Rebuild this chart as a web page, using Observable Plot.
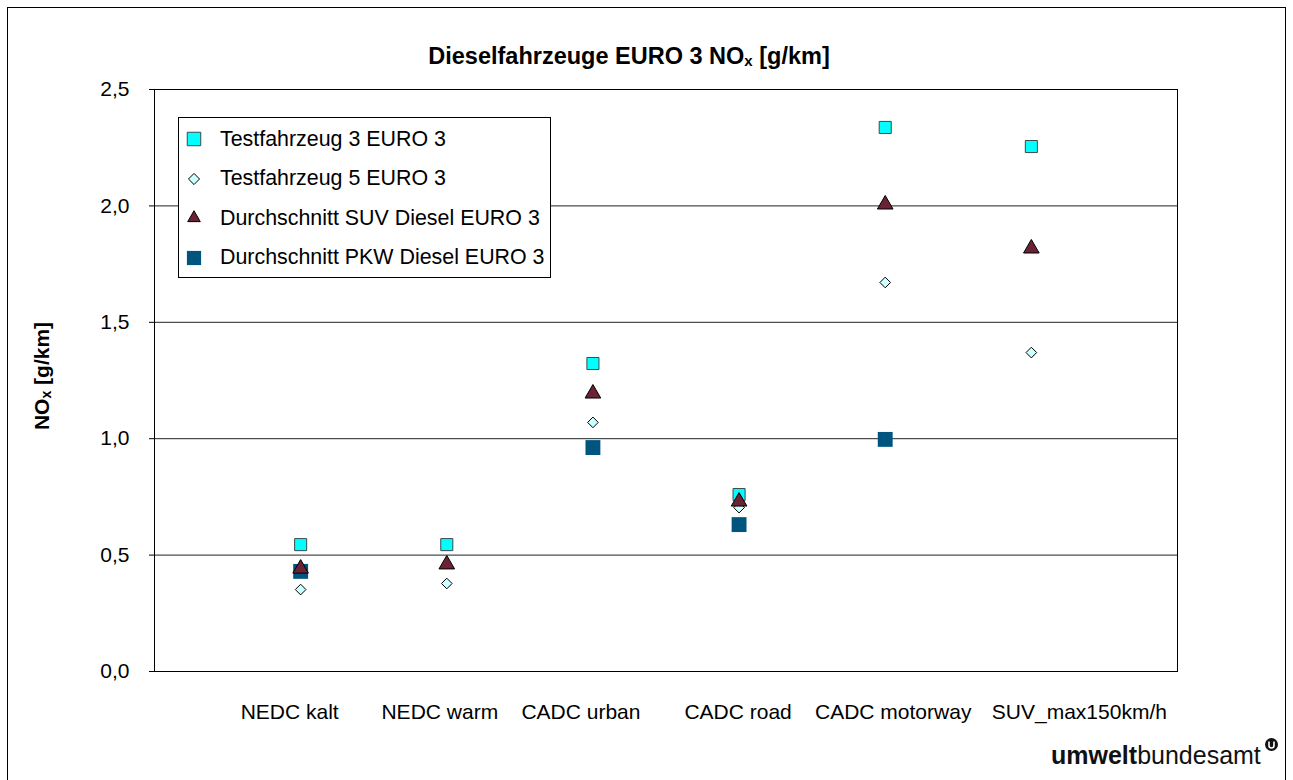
<!DOCTYPE html>
<html>
<head>
<meta charset="utf-8">
<script src="https://cdn.jsdelivr.net/npm/d3@7"></script>
<script src="https://cdn.jsdelivr.net/npm/@observablehq/plot@0.6"></script>
<style>
  body { margin: 0; background: #fff; font-family: "Liberation Sans", Arial, sans-serif; }
  #wrap { position: relative; width: 1293px; height: 780px; overflow: hidden; }
  #border { position: absolute; left: 7px; top: 7px; width: 1279px; height: 800px; border: 1px solid #000; box-sizing: border-box; }
  #title { position: absolute; left: 0; width: 1258px; top: 43px; text-align: center; font-weight: bold; font-size: 23.5px; color: #000; }
  #ylabel { position: absolute; left: 42px; top: 376px; transform: translate(-50%, -50%) rotate(-90deg); font-weight: bold; font-size: 21px; white-space: nowrap; }
  #legend { position: absolute; left: 178px; top: 117px; width: 373px; height: 161px; border: 1px solid #000; box-sizing: border-box; background: #fff; }
  .li { position: absolute; left: 5px; height: 26px; display: flex; align-items: center; font-size: 21.4px; white-space: nowrap; }
  .li svg { width: 20px; height: 20px; margin-right: 16px; }
  #logo { position: absolute; left: 1051px; top: 741px; font-size: 25px; color: #111; white-space: nowrap; }
  #logo b { font-weight: bold; }
  svg.plot { position: absolute; left: 0; top: 0; }
</style>
</head>
<body>
<div id="wrap">
  <div id="border"></div>
  <div id="chart"></div>
  <div id="title">Dieselfahrzeuge EURO 3 NO<sub style="font-size:15px;vertical-align:-2px">x</sub> [g/km]</div>
  <div id="ylabel">NO<sub style="font-size:14px;vertical-align:-2px">x</sub> [g/km]</div>
  <div id="legend"></div>
  <div id="logo"><b>umwelt</b>bundesamt<svg width="15" height="15" style="position:relative;top:-12px;left:3px"><circle cx="7.5" cy="7.5" r="6.5" fill="#111"/><path d="M5 4.5 V8.5 A2.5 2.5 0 0 0 10 8.5 V4.5" stroke="#fff" stroke-width="1.6" fill="none"/></svg></div>
</div>
<script>
const categories = ["NEDC kalt", "NEDC warm", "CADC urban", "CADC road", "CADC motorway", "SUV_max150km/h"];
const seriesNames = ["Testfahrzeug 3 EURO 3", "Testfahrzeug 5 EURO 3", "Durchschnitt SUV Diesel EURO 3", "Durchschnitt PKW Diesel EURO 3"];
const test3 = [0.545, 0.545, 1.323, 0.76, 2.337, 2.255];
const test5 = [0.352, 0.378, 1.07, 0.704, 1.671, 1.37];
const suvAvg = [0.442, 0.46, 1.194, 0.73, 2.006, 1.817];
const pkwAvg = [0.43, null, 0.962, 0.631, 0.997, null];
const yTicks = [0, 0.5, 1, 1.5, 2, 2.5];

const styles = {
  [seriesNames[0]]: {symbol: "square", r: 6.8, fill: "#00FFFF", stroke: "#3a4a4a", sw: 1},
  [seriesNames[1]]: {symbol: "diamond2", r: 4.8, fill: "#CCFFFF", stroke: "#000", sw: 1},
  [seriesNames[2]]: {symbol: "triangle", r: 5.8, fill: "#6B2235", stroke: "#000", sw: 1},
  [seriesNames[3]]: {symbol: "square", r: 8.4, fill: "#00557F", stroke: "none", sw: 0}
};
// horizontal nudges of the category labels, as laid out in the original chart (px)
const labelNudge = [-11, -7, -12, -1, 8, 48];

function rows(name, vals) {
  return vals.map((v, i) => ({series: name, idx: i + 1, cat: categories[i], value: v})).filter(d => d.value != null);
}
const dPKW = rows(seriesNames[3], pkwAvg);
const dT3 = rows(seriesNames[0], test3);
const dT5 = rows(seriesNames[1], test5);
const dSUV = rows(seriesNames[2], suvAvg);

function dotMark(data, name) {
  const s = styles[name];
  return Plot.dot(data, {x: "idx", y: "value", symbol: () => s.symbol, r: s.r, fill: s.fill, stroke: s.stroke, strokeWidth: s.sw});
}

const comma = v => d3.format(".1f")(v).replace(".", ",");

const catLabels = categories.map((c, i) =>
  Plot.text([{idx: i + 1, cat: c}], {x: "idx", y: () => 0, text: "cat", dy: 41, dx: labelNudge[i], fill: "#000"})
);

const plot = Plot.plot({
  width: 1293,
  height: 780,
  marginLeft: 154,
  marginRight: 116,
  marginTop: 89,
  marginBottom: 109,
  style: {fontFamily: "Liberation Sans, Arial, sans-serif", fontSize: "21px", color: "#000", background: "transparent"},
  symbol: {type: "identity"},
  x: {domain: [0, 7], axis: null},
  y: {domain: [0, 2.5], ticks: yTicks, tickFormat: comma, tickSize: 5, tickPadding: 20, label: null},
  marks: [
    Plot.ruleY(yTicks.filter(t => t > 0 && t < 2.5), {stroke: "#222", strokeWidth: 1}),
    Plot.frame({stroke: "#000", strokeWidth: 1}),
    ...catLabels,
    dotMark(dPKW, seriesNames[3]),
    dotMark(dT3, seriesNames[0]),
    dotMark(dT5, seriesNames[1]),
    dotMark(dSUV, seriesNames[2])
  ]
});
document.getElementById("chart").appendChild(plot);

// legend
const legend = document.getElementById("legend");
const symPaths = {
  square: r => { const s = r * Math.sqrt(Math.PI) / 2; return `M${-s},${-s}H${s}V${s}H${-s}Z`; },
  diamond2: r => d3.symbol(d3.symbolDiamond2, Math.PI * r * r)(),
  triangle: r => d3.symbol(d3.symbolTriangle2, Math.PI * r * r)()
};
const legendR = {[seriesNames[0]]: 7.6, [seriesNames[1]]: 5, [seriesNames[2]]: 6, [seriesNames[3]]: 8};
seriesNames.forEach((name, i) => {
  const s = styles[name];
  const div = document.createElement("div");
  div.className = "li";
  div.style.top = (8 + i * 39.5) + "px";
  const path = symPaths[s.symbol](legendR[name]);
  div.innerHTML = `<svg viewBox="-10 -10 20 20"><path d="${path}" fill="${s.fill}" stroke="${s.stroke}" stroke-width="${s.sw}"/></svg><span>${name}</span>`;
  legend.appendChild(div);
});
</script>
</body>
</html>
